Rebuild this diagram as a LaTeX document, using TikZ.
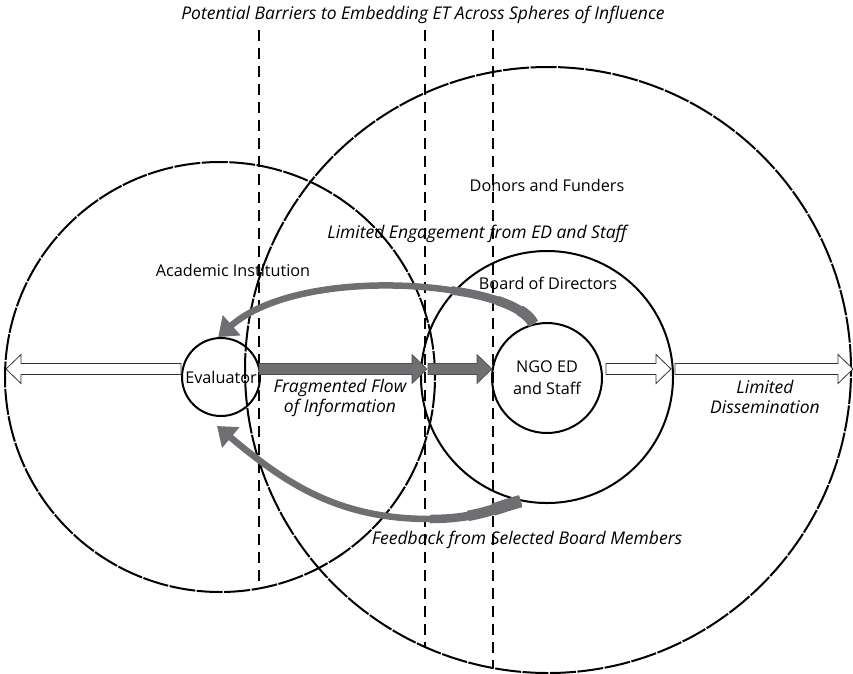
\documentclass[tikz,border=0pt]{standalone}
\usepackage{fontspec}
\setmainfont{Open Sans}
\usetikzlibrary{calc,arrows.meta}

\definecolor{flowgray}{RGB}{110,111,114}
\tikzset{
  ring/.style={circle, draw, line width=2pt, inner sep=0pt},
  sphere/.style={circle, draw, line width=2pt, dash pattern=on 26pt off 1.5pt, inner sep=0pt},
  barrier/.style={line width=2.2pt, dash pattern=on 11pt off 7pt},
  lbl/.style={font=\fontsize{16.2}{22}\selectfont, inner sep=0pt},
  ilbl/.style={lbl, font=\fontsize{17.5}{20.5}\selectfont\itshape, align=center},
  hollow/.style={draw=black!80, fill=white, line width=0.8pt},
  solidflow/.style={draw=black!70, fill=flowgray, line width=0.6pt},
  feedback/.style={draw=flowgray, line width=6.5pt, -{Triangle[length=18pt,width=26pt]}},
}

% block arrow between two points on the same line
\newcommand{\blockarrow}[3][]{%
  \draw[#1] ($(#2)+(0,5.5)$) -- ($(#3)!15pt!(#2)+(0,5.5)$) -- ($(#3)!15pt!(#2)+(0,14.5)$) -- (#3)
    -- ($(#3)!15pt!(#2)+(0,-14.5)$) -- ($(#3)!15pt!(#2)+(0,-5.5)$) -- ($(#2)+(0,-5.5)$) -- cycle;}

\begin{document}
\begin{tikzpicture}[x=1pt, y=-1pt]
  \useasboundingbox (0,0) rectangle (853,673);
  % spheres of influence
  \node[sphere, minimum size=430pt] (acad) at (220,377) {};
  \node[sphere, minimum size=606pt] (donors) at (548,370) {};
  \node[ring, minimum size=252pt] (board) at (547,377) {};
  \node[ring, lbl, align=center, minimum size=110pt] (ngo) at (547,378) {NGO ED\\and Staff};
  \node[ring, lbl, minimum size=78pt] (eval) at (221,377) {Evaluator};

  % barriers
  \foreach \bx/\by in {259/588, 425/646, 493/668}
    \draw[barrier] (\bx,30) -- (\bx,\by);

  % labels
  \node[ilbl] (title) at (423,15) {Potential Barriers to Embedding ET Across Spheres of Influence};
  \node[lbl] (donlbl) at (547,185) {Donors and Funders};
  \node[ilbl] (engage) at (477,234) {Limited Engagement from ED and Staff};
  \node[lbl] (acadlbl) at (233,270) {Academic Institution};
  \node[lbl] (boardlbl) at (548,283) {Board of Directors};
  \node[ilbl] (frag) at (340,398) {Fragmented Flow\\of Information};
  \node[ilbl] (dissem) at (765,397) {Limited\\Dissemination};
  \node[ilbl] (fback) at (527,540) {Feedback from Selected Board Members};

  % straight flows
  \coordinate (mid) at (0,369);
  \coordinate (evalL) at (eval.west |- mid);
  \coordinate (acadL) at ($(acad.west |- mid)+(2,0)$);
  \coordinate (evalR) at ($(eval.east |- mid)+(-2,0)$);
  \coordinate (gapL) at (427,369);
  \coordinate (gapR) at (428,369);
  \coordinate (ngoL) at ($(ngo.west |- mid)+(1,0)$);
  \coordinate (ngoR) at ($(ngo.east |- mid)+(3,0)$);
  \coordinate (boardR) at ($(board.east |- mid)+(-3,0)$);
  \coordinate (boardR2) at ($(board.east |- mid)+(1,0)$);
  \coordinate (donorsR) at ($(donors.east |- mid)+(1,0)$);
  \blockarrow[hollow]{evalL}{acadL}
  \blockarrow[solidflow]{evalR}{gapL}
  \blockarrow[solidflow]{gapR}{ngoL}
  \blockarrow[hollow]{ngoR}{boardR}
  \blockarrow[hollow]{boardR2}{donorsR}

  % feedback loops (thicker where they leave the board / ED)
  \coordinate (fbtip) at ($(eval.south)+(-4,9)$);
  \coordinate (fblow) at (430,519);
  \draw[feedback] (ngo.104) .. controls (505,280) and (300,265) .. (eval.94);
  \foreach \w/\ax/\ay/\bx/\by/\ex/\ey in {8.5/523.2/307.3/491.7/295.9/451.4/290.4,
      9.5/527.4/313.6/514.7/306.3/497.3/300.5, 11/530.2/317.8/525.6/313.9/519.6/310.2}
    \draw[flowgray, line width=\w pt] (ngo.104) .. controls (\ax,\ay) and (\bx,\by) .. (\ex,\ey);
  \draw[feedback] (board.258) .. controls (486.8,512.4) and (466.4,519) .. (fblow)
    to[out=180,in=-40] (fbtip);
  \foreach \w/\ax/\ay/\bx/\by/\ex/\ey in {8.5/486.8/512.4/466.4/519/430/519,
      10.5/500.5/507.4/485/512.8/467.9/515.9, 12.5/510.7/503.7/501.8/506.9/493.2/509.6}
    \draw[flowgray, line width=\w pt] (board.258) .. controls (\ax,\ay) and (\bx,\by) .. (\ex,\ey);
\end{tikzpicture}
\end{document}
